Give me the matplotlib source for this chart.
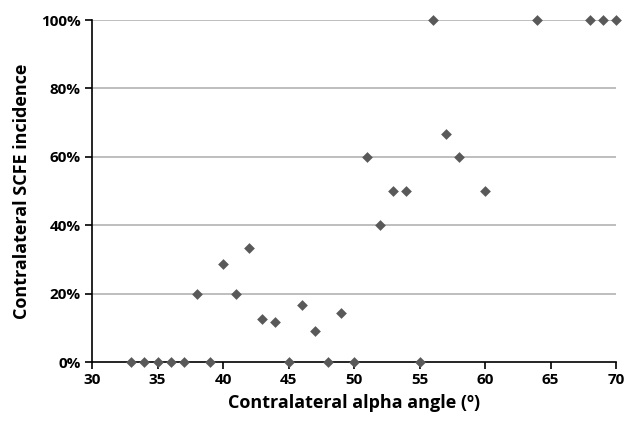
import matplotlib.pyplot as plt
from matplotlib.ticker import PercentFormatter

# alpha angle (degrees) and contralateral SCFE incidence (%)
alpha_angle = [33, 34, 35, 36, 37, 38, 39, 40, 41, 42, 43, 44, 45, 46, 47, 48,
               49, 50, 51, 52, 53, 54, 55, 56, 57, 58, 60, 64, 68, 69, 70]
incidence = [0, 0, 0, 0, 0, 20, 0, 28.6, 20, 33.3, 12.5, 11.8, 0, 16.7, 9.1, 0,
             14.3, 0, 60, 40, 50, 50, 0, 100, 66.7, 60, 50, 100, 100, 100, 100]
x_ticks = [30, 35, 40, 45, 50, 55, 60, 65, 70]
y_ticks = [0, 20, 40, 60, 80, 100]

plt.rcParams['font.family'] = ['Open Sans', 'DejaVu Sans']
plt.rcParams['font.weight'] = 'bold'

fig = plt.figure(figsize=(6.29, 4.25), dpi=100)
ax = fig.add_axes([92 / 629, 1 - 362 / 425, 524 / 629, 342 / 425])

# light grey horizontal gridlines behind the points
for y in y_ticks[1:]:
    ax.axhline(y, color='#b3b3b3', lw=1.2, zorder=1)

ax.scatter(alpha_angle, incidence, marker='D', s=30, color='#595959',
           zorder=3, clip_on=False, linewidths=0)

ax.set_xlim(30, 70)
ax.set_ylim(0, 100)
ax.set_xticks(x_ticks)
ax.set_yticks(y_ticks)
ax.yaxis.set_major_formatter(PercentFormatter(decimals=0))

for side in ['top', 'right']:
    ax.spines[side].set_visible(False)
for side in ['left', 'bottom']:
    ax.spines[side].set_color('black')
    ax.spines[side].set_linewidth(1.2)

ax.tick_params(direction='out', length=5, width=1.2, labelsize=11, pad=3)
for lab in ax.get_xticklabels() + ax.get_yticklabels():
    lab.set_fontweight('bold')

ax.set_xlabel('Contralateral alpha angle (º)', fontsize=13, fontweight='bold', labelpad=5)
ax.set_ylabel('Contralateral SCFE incidence', fontsize=13, fontweight='bold', labelpad=7)

fig.savefig('out.png', dpi=100)
